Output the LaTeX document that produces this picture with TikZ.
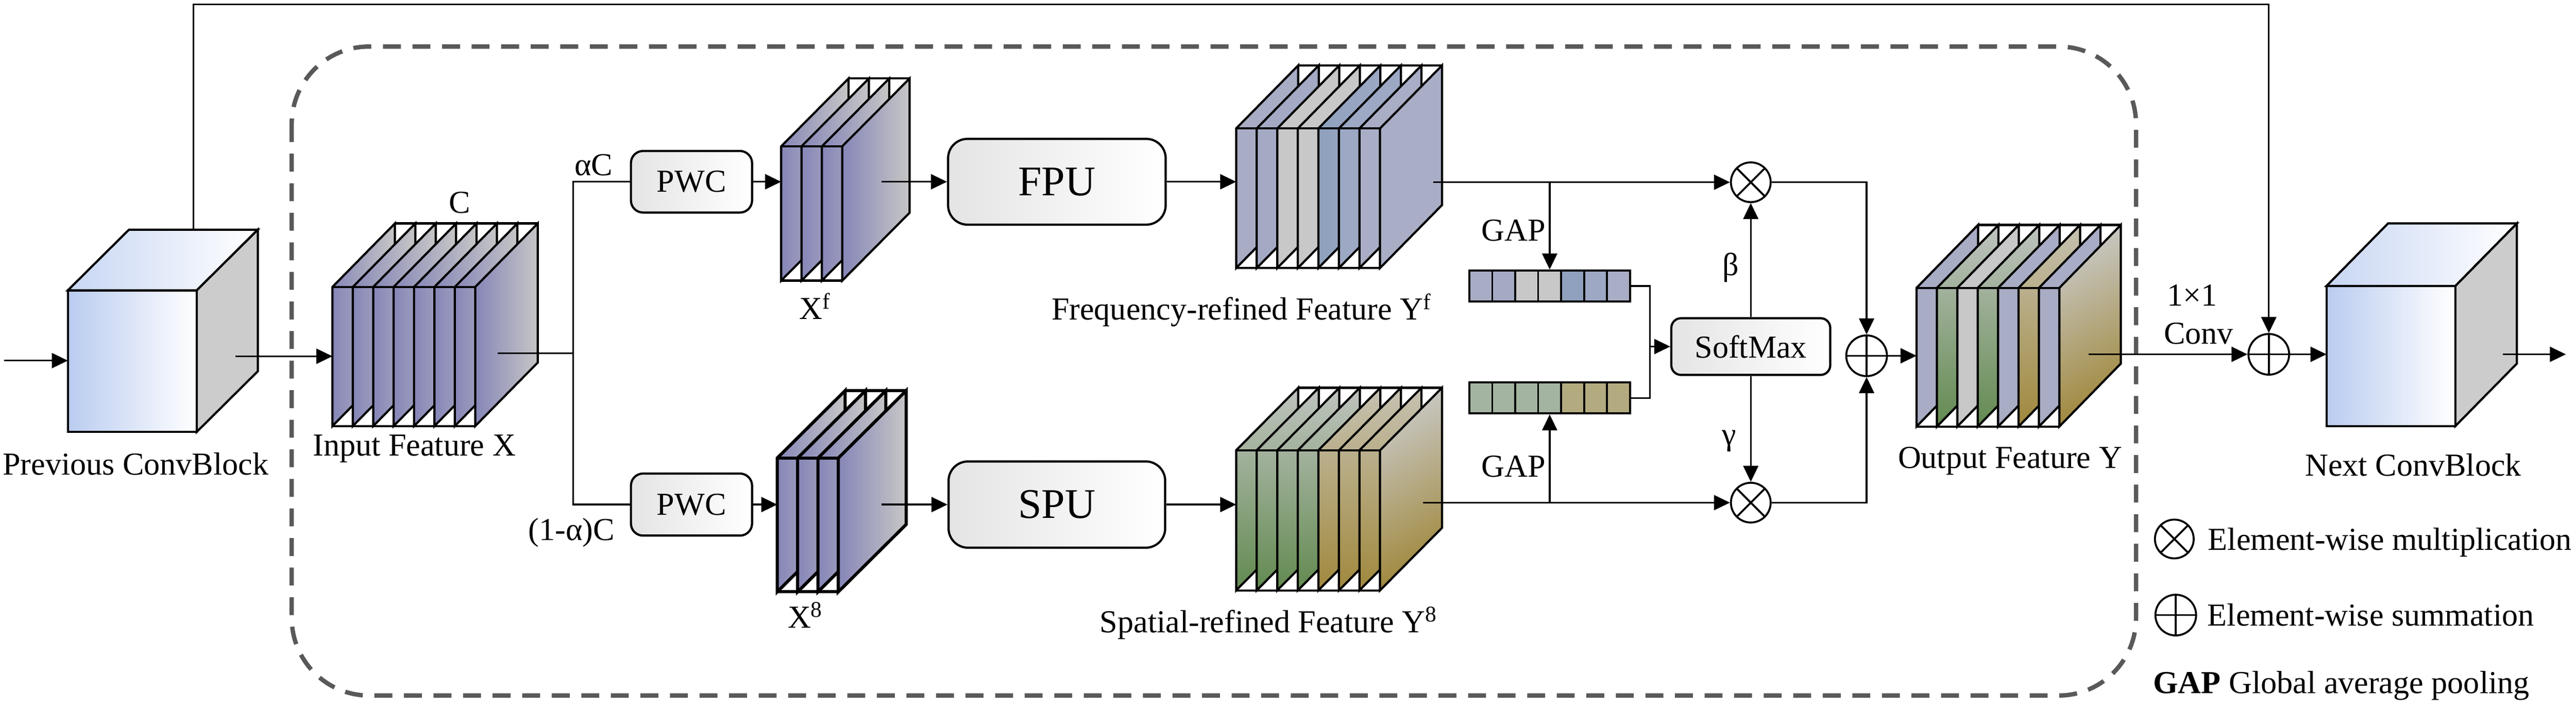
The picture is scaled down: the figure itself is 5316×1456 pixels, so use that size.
\documentclass[tikz,border=0pt]{standalone}
\usepackage{fontspec}
\setmainfont{Liberation Serif}
\usetikzlibrary{arrows.meta}
\definecolor{dashgrey}{RGB}{89,89,89}
\definecolor{boxgrey}{RGB}{228,228,228}
\definecolor{cubeblue}{RGB}{186,204,240}
\definecolor{cubeside}{RGB}{204,204,204}
\definecolor{xpurple}{RGB}{134,134,184}
\definecolor{xgrey}{RGB}{198,198,198}
\definecolor{yfa}{RGB}{168,172,196}
\definecolor{yfb}{RGB}{164,170,196}
\definecolor{yfc}{RGB}{200,200,200}
\definecolor{yfd}{RGB}{143,161,190}
\definecolor{yfe}{RGB}{156,168,196}
\definecolor{yff}{RGB}{169,174,198}
\definecolor{ysgtop}{RGB}{192,196,192}
\definecolor{ysgbot}{RGB}{98,138,80}
\definecolor{ysotop}{RGB}{198,194,178}
\definecolor{ysobot}{RGB}{160,136,60}
\definecolor{ysrtop}{RGB}{200,200,196}
\definecolor{vsg}{RGB}{163,180,160}
\definecolor{vso}{RGB}{180,170,128}

\tikzset{
  conn/.style={line width=0.35mm},
  arr/.style={conn,-{Triangle[length=3.3mm,width=3.1mm]}},
  plate/.style={draw=black,line width=0.45mm},
  cell/.style={draw=black,line width=0.4mm},
  vecbox/.style={draw=black,line width=0.4mm,inner sep=0,minimum width=33.2mm,minimum height=6.4mm},
  unitbox/.style={draw=black,line width=0.45mm,rounded corners=2.5mm,left color=boxgrey,right color=white,inner sep=0},
  opmul/.style={circle,draw=black,line width=0.4mm,minimum size=8.2mm,inner sep=0,
    path picture={\draw[line width=0.4mm] (path picture bounding box.north west) -- (path picture bounding box.south east)
      (path picture bounding box.north east) -- (path picture bounding box.south west);}},
  opsum/.style={circle,draw=black,line width=0.4mm,minimum size=8.4mm,inner sep=0,
    path picture={\draw[line width=0.4mm] (path picture bounding box.north) -- (path picture bounding box.south)
      (path picture bounding box.west) -- (path picture bounding box.east);}},
  lbl/.style={inner sep=0,anchor=base},
  dashbox/.style={draw=dashgrey,line width=0.9mm,dash pattern=on 3.7mm off 2.4mm,rounded corners=16mm},
}

% cube: x0, ytop, width, height, dx, dy
\newcommand{\convcube}[6]{%
  \shadedraw[plate,left color=cubeblue,right color=white] (#1,#2) rectangle ++(#3,#4);
  \shadedraw[plate,left color=cubeblue!80!white,right color=white] (#1,#2) -- ++(#5,-#6) -- ++(#3,0) -- ++(-#5,#6) -- cycle;
  \filldraw[plate,fill=cubeside] ({#1+#3},#2) -- ++(#5,-#6) -- ++(0,#4) -- ++(-#5,#6) -- cycle;
}

% stack of channel plates: x0, ytop, ybot, step, dx, dy, {angle/colour/colour,...}
\newcommand{\featmap}[7]{%
  \foreach \plang/\plcola/\plcolb [count=\i from 0] in {#7}{
    \shadedraw[plate,top color=\plcola,bottom color=\plcolb,shading angle=\plang]
      ({#1+\i*#4},#3) -- ({#1+\i*#4},#2) -- ++(#5,-#6) -- ++(0,{#3-#2}) -- cycle;
    \xdef\nplates{\i}
  }
  \draw[plate] (#1,#2) -- ({#1+\nplates*#4},#2)
               (#1,#3) -- ({#1+\nplates*#4},#3)
               ({#1+#5},{#2-#6}) -- ({#1+\nplates*#4+#5},{#2-#6});
}

\begin{document}
\begin{tikzpicture}[x=0.1mm,y=-0.1mm,font=\fontsize{18.8pt}{22pt}\selectfont]
\useasboundingbox (0,0) rectangle (5316,1456);

% dashed frame
\draw[dashbox] (602,96) rectangle (4408,1435);

% conv blocks
\convcube{140}{599}{266}{292}{126}{125}
\convcube{4801}{590}{266}{289}{127}{129}

% feature maps
\featmap{686}{592}{879}{42.1}{129}{131}{90/xpurple/xgrey,90/xpurple/xgrey,90/xpurple/xgrey,90/xpurple/xgrey,90/xpurple/xgrey,90/xpurple/xgrey,90/xpurple/xgrey,90/xpurple/xgrey}
\featmap{1612}{302}{579}{42}{139}{140}{90/xpurple/xgrey,90/xpurple/xgrey,90/xpurple/xgrey,90/xpurple/xgrey}
\begin{scope}[plate/.style={draw=black,line width=0.65mm}]
\featmap{1604}{945}{1221}{42}{140}{139}{90/xpurple/xgrey,90/xpurple/xgrey,90/xpurple/xgrey,90/xpurple/xgrey}
\end{scope}
\featmap{2551}{265}{553}{42.4}{128}{130}{90/yfa/yfa,90/yfb/yfb,90/yfc/yfc,90/yfc/yfc,90/yfd/yfe,90/yfe/yfe,90/yff/yff,90/yff/yff}
\featmap{2551}{929}{1218}{42.4}{128}{129}{0/ysgtop/ysgbot,0/ysgtop/ysgbot,0/ysgtop/ysgbot,0/ysgtop/ysgbot,0/ysotop/ysobot,0/ysotop/ysobot,0/ysotop/ysobot,30/ysrtop/ysobot}
\featmap{3955}{594}{880}{42.1}{127}{130}{90/yfa/yfa,0/ysgtop/ysgbot,90/yfc/yfc,0/ysgtop/ysgbot,90/yfa/yfa,0/ysotop/ysobot,90/yfa/yfa,30/ysrtop/ysobot}

% pooled vectors
\foreach \c [count=\i from 0] in {yfa,yfb,yfc,yfc,yfd,yfe,yff}
  \filldraw[cell,fill=\c] ({3032+\i*47.4},558) rectangle ++(47.4,64);
\node[vecbox] (vecf) at (3198,590) {};
\foreach \c [count=\i from 0] in {vsg,vsg,vsg,vsg,vso,vso,vso}
  \filldraw[cell,fill=\c] ({3032+\i*47.4},789) rectangle ++(47.4,64);
\node[vecbox] (vecs) at (3198,821) {};

% units
\node[unitbox,minimum width=25mm,minimum height=12.7mm] (pwcf) at (1427,375) {PWC};
\node[unitbox,minimum width=25mm,minimum height=12.8mm] (pwcs) at (1427,1041) {PWC};
\node[unitbox,rounded corners=4mm,minimum width=44.9mm,minimum height=17.7mm,font=\fontsize{24.8pt}{28pt}\selectfont] (fpu) at (2181,375) {FPU};
\node[unitbox,rounded corners=4mm,minimum width=44.7mm,minimum height=17.8mm,font=\fontsize{24.8pt}{28pt}\selectfont] (spu) at (2181,1041) {SPU};
\node[unitbox,rounded corners=2mm,minimum width=32.8mm,minimum height=11.7mm] (softmax) at (3613,715) {SoftMax};

% operators
\node[opmul] (mulf) at (3613,376) {};
\node[opmul] (muls) at (3613,1037) {};
\node[opsum] (sumy) at (3852,734) {};
\node[opsum] (sumskip) at (4682,731) {};

% connector ends
\coordinate (in-start) at (9,744);
\coordinate (prev-in) at (140,744);
\coordinate (prev-out) at (486,735);
\coordinate (prev-top) at (399,474);
\coordinate (skip-turn) at (399,9);
\coordinate (xin-in) at (686,735);
\coordinate (xin-out) at (1027,729);
\coordinate (split) at (1183,729);
\coordinate (xf-in) at (1612,375);
\coordinate (xf-out) at (1819,375);
\coordinate (xs-in) at (1604,1041);
\coordinate (xs-out) at (1819,1041);
\coordinate (yf-in) at (2551,375);
\coordinate (yf-out) at (2958,376);
\coordinate (ys-in) at (2551,1041);
\coordinate (ys-out) at (2936,1037);
\coordinate (merge) at (3405,715);
\coordinate (yout-in) at (3955,734);
\coordinate (yout-out) at (4310,731);
\coordinate (next-in) at (4801,731);
\coordinate (next-out) at (5165,731);
\coordinate (out-end) at (5295,731);

% connectors
\draw[arr] (in-start) -- (prev-in);
\draw[arr] (prev-out) -- (xin-in);
\draw[conn] (xin-out) -- (split);
\draw[conn] (pwcf.west) -| (split) |- (pwcs.west);
\draw[arr] (pwcf.east) -- (xf-in);
\draw[arr] (pwcs.east) -- (xs-in);
\draw[arr] (xf-out) -- (fpu.west);
\draw[arr] (xs-out) -- (spu.west);
\draw[arr] (fpu.east) -- (yf-in);
\draw[arr] (spu.east) -- (ys-in);
\draw[arr] (yf-out) -- (mulf.west);
\draw[arr] (vecf.north |- yf-out) -- (vecf.north);
\draw[arr] (ys-out) -- (muls.west);
\draw[arr] (vecs.south |- ys-out) -- (vecs.south);
\draw[conn] (vecf.east) -| (merge) |- (vecs.east);
\draw[arr] (merge) -- (softmax.west);
\draw[arr] (softmax.north) -- (mulf.south);
\draw[arr] (softmax.south) -- (muls.north);
\draw[arr] (mulf.east) -| (sumy.north);
\draw[arr] (muls.east) -| (sumy.south);
\draw[arr] (sumy.east) -- (yout-in);
\draw[arr] (yout-out) -- (sumskip.west);
\draw[arr] (prev-top) -- (skip-turn) -| (sumskip.north);
\draw[arr] (sumskip.east) -- (next-in);
\draw[arr] (next-out) -- (out-end);

% labels
\node[lbl] (lprev) at (280,980) {Previous ConvBlock};
\node[lbl] (lxin) at (855,940) {Input Feature X};
\node[lbl] (lc) at (949,440) {C};
\node[lbl,anchor=base west] (lalpha) at (1185,362) {αC};
\node[lbl,anchor=base east] (lalpham) at (1269,1115) {(1-α)C};
\node[lbl] (lxf) at (1682,659) {X\textsuperscript{f}};
\node[lbl] (lxs) at (1662,1295) {X\textsuperscript{8}};
\node[lbl] (lyf) at (2562,660) {Frequency-refined Feature Y\textsuperscript{f}};
\node[lbl] (lys) at (2618,1305) {Spatial-refined Feature Y\textsuperscript{8}};
\node[lbl,anchor=base east] (lgapf) at (3190,497) {GAP};
\node[lbl,anchor=base east] (lgaps) at (3190,984) {GAP};
\node[lbl] (lbeta) at (3572,568) {β};
\node[lbl] (lgamma) at (3568,918) {γ};
\node[lbl] (lyout) at (4148,966) {Output Feature Y};
\node[lbl] (lconv1) at (4524,631) {1×1};
\node[lbl] (lconv2) at (4537,710) {Conv};
\node[lbl] (lnext) at (4980,982) {Next ConvBlock};

% legend
\node[opmul,minimum size=8mm] (legmul) at (4487,1112) {};
\node[lbl,anchor=base west] (lmul) at (4556,1135) {Element-wise multiplication};
\node[opsum] (legsum) at (4490,1269) {};
\node[lbl,anchor=base west] (lsum) at (4555,1291) {Element-wise summation};
\node[lbl,anchor=base west] (lgap) at (4443,1430) {\textbf{GAP} Global average pooling};
\end{tikzpicture}
\end{document}
